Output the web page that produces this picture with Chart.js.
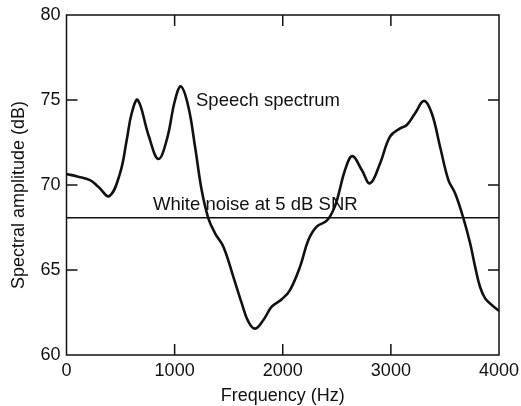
<!DOCTYPE html>
<html lang="en">
<head>
    <meta charset="UTF-8">
    <title>Speech spectrum</title>
    <script src="https://cdn.jsdelivr.net/npm/chart.js"></script>
    <style>
        html, body {
            margin: 0;
            padding: 0;
            background: white;
        }
        #wrap {
            width: 521px;
            height: 406px;
            position: relative;
        }
    </style>
</head>
<body>
    <div id="wrap">
        <canvas id="grafico"></canvas>
    </div>

    <script>
        // datos
        const freqHz = [0, 100, 217, 294, 396, 495, 557, 603, 659, 760, 849, 927, 1004, 1059, 1127, 1189, 1250,
            1312, 1374, 1451, 1543, 1621, 1682, 1744, 1821, 1898, 1991, 2067, 2160, 2237, 2314, 2407, 2468, 2510,
            2576, 2644, 2731, 2807, 2900, 2992, 3085, 3147, 3224, 3307, 3378, 3455, 3532, 3594, 3671, 3733, 3779,
            3825, 3872, 3933, 4000];
        const speechDb = [70.65, 70.5, 70.29, 69.9, 69.35, 70.69, 72.65, 74.22, 75.0, 72.9, 71.53, 72.65, 75.0, 75.8, 74.6, 72.25, 69.7,
            68.04, 67.16, 66.37, 64.6, 63.04, 61.96, 61.55, 62.06, 62.84, 63.28, 63.82, 65.2, 66.76, 67.55, 67.9, 68.53, 69.3,
            70.88, 71.7, 70.88, 70.1, 71.27, 72.84, 73.33, 73.53, 74.22, 74.95, 74.22, 72.25, 70.29, 69.51, 68.04, 66.57, 65.2,
            64.0, 63.33, 62.94, 62.6];
        const noiseHz = [0, 4000];
        const noiseDb = [68.08, 68.08];

        const xTicks = [0, 1000, 2000, 3000, 4000];
        const yTicks = [60, 65, 70, 75, 80];
        const xTitle = 'Frequency (Hz)';
        const yTitle = 'Spectral amplitude (dB)';
        const etiquetas = [
            { texto: 'Speech spectrum', x: 1198, y: 74.95 },
            { texto: 'White noise at 5 dB SNR', x: 800, y: 68.8 }
        ];

        const fuente = '"Liberation Sans", Arial, sans-serif';
        const negro = '#111';

        // ejes, marcas hacia dentro y textos
        const ejesPlugin = {
            id: 'ejes',
            afterDatasetsDraw(chart) {
                const ctx = chart.ctx;
                const a = chart.chartArea;
                const xs = chart.scales.x;
                const ys = chart.scales.y;
                const largo = 11;
                ctx.save();
                ctx.strokeStyle = negro;
                ctx.lineWidth = 1.5;
                ctx.strokeRect(a.left, a.top, a.right - a.left, a.bottom - a.top);

                ctx.beginPath();
                xTicks.slice(1, -1).forEach(v => {
                    const px = xs.getPixelForValue(v);
                    ctx.moveTo(px, a.bottom);
                    ctx.lineTo(px, a.bottom - largo);
                    ctx.moveTo(px, a.top);
                    ctx.lineTo(px, a.top + largo);
                });
                yTicks.slice(1, -1).forEach(v => {
                    const py = ys.getPixelForValue(v);
                    ctx.moveTo(a.left, py);
                    ctx.lineTo(a.left + largo, py);
                    ctx.moveTo(a.right, py);
                    ctx.lineTo(a.right - largo, py);
                });
                ctx.stroke();

                ctx.fillStyle = negro;
                ctx.font = '18px ' + fuente;
                ctx.textAlign = 'right';
                ctx.textBaseline = 'middle';
                yTicks.forEach(v => {
                    ctx.fillText(String(v), a.left - 6, ys.getPixelForValue(v));
                });
                ctx.textAlign = 'center';
                ctx.textBaseline = 'middle';
                xTicks.forEach(v => {
                    ctx.fillText(String(v), xs.getPixelForValue(v), a.bottom + 16);
                });

                ctx.fillText(xTitle, (a.left + a.right) / 2, a.bottom + 41);
                ctx.save();
                ctx.translate(19, (a.top + a.bottom) / 2 + 10);
                ctx.rotate(-Math.PI / 2);
                ctx.fillText(yTitle, 0, 0);
                ctx.restore();

                ctx.font = '18.5px ' + fuente;
                ctx.textAlign = 'left';
                etiquetas.forEach(e => {
                    ctx.fillText(e.texto, xs.getPixelForValue(e.x), ys.getPixelForValue(e.y));
                });
                ctx.restore();
            }
        };

        new Chart(document.getElementById('grafico'), {
            type: 'line',
            data: {
                datasets: [
                    {
                        label: 'Speech spectrum',
                        data: freqHz.map((f, i) => ({ x: f, y: speechDb[i] })),
                        borderColor: negro,
                        borderWidth: 2.6,
                        pointRadius: 0,
                        tension: 0.4,
                        fill: false
                    },
                    {
                        label: 'White noise at 5 dB SNR',
                        data: noiseHz.map((f, i) => ({ x: f, y: noiseDb[i] })),
                        borderColor: negro,
                        borderWidth: 1.5,
                        pointRadius: 0,
                        fill: false
                    }
                ]
            },
            options: {
                responsive: true,
                maintainAspectRatio: false,
                animation: false,
                layout: {
                    padding: { left: 66.5, right: 22, top: 15, bottom: 51 }
                },
                plugins: {
                    legend: { display: false },
                    tooltip: { enabled: false }
                },
                scales: {
                    x: { type: 'linear', min: 0, max: 4000, display: false },
                    y: { min: 60, max: 80, display: false }
                }
            },
            plugins: [ejesPlugin]
        });
    </script>
</body>
</html>
